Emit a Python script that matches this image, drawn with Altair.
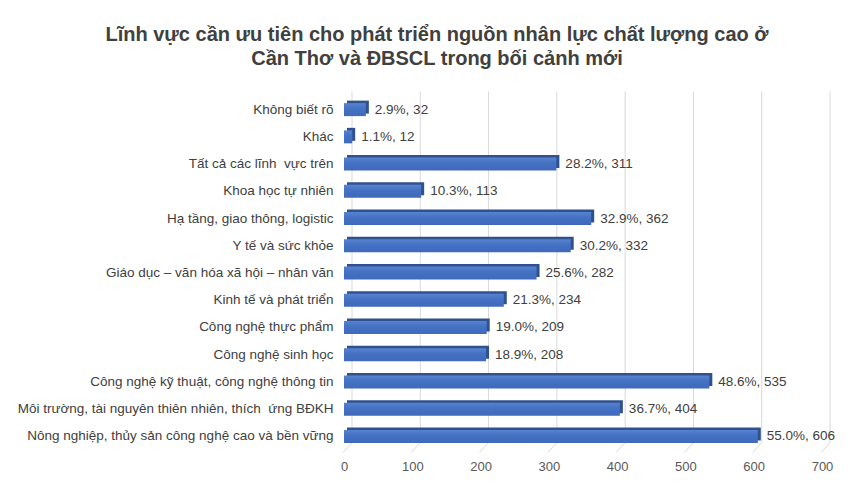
import altair as alt
import pandas as pd

categories = [
    "Không biết rõ",
    "Khác",
    "Tất cả các lĩnh \u00a0vực trên",
    "Khoa học tự nhiên",
    "Hạ tầng, giao thông, logistic",
    "Y tế và sức khỏe",
    "Giáo dục – văn hóa xã hội – nhân văn",
    "Kinh tế và phát triển",
    "Công nghệ thực phẩm",
    "Công nghệ sinh học",
    "Công nghệ kỹ thuật, công nghệ thông tin",
    "Môi trường, tài nguyên thiên nhiên, thích \u00a0ứng BĐKH",
    "Nông nghiệp, thủy sản công nghệ cao và bền vững",
]
counts = [32, 12, 311, 113, 362, 332, 282, 234, 209, 208, 535, 404, 606]
percents = [2.9, 1.1, 28.2, 10.3, 32.9, 30.2, 25.6, 21.3, 19.0, 18.9, 48.6, 36.7, 55.0]
ticks = [0, 100, 200, 300, 400, 500, 600, 700]

title_lines = [
    "Lĩnh vực cần ưu tiên cho phát triển nguồn nhân lực chất lượng cao ở",
    "Cần Thơ và ĐBSCL trong bối cảnh mới",
]

df = pd.DataFrame({"cat": categories, "n": counts, "pct": percents})
df["label"] = [f"{p:.1f}%, {n}" for p, n in zip(percents, counts)]
grid_df = pd.DataFrame({"v": ticks})

W, H = 478, 354
FONT = "Liberation Sans"

xs = alt.Scale(domain=[0, 700], nice=False, zero=True)
ys = alt.Scale(domain=categories, paddingInner=0, paddingOuter=0)

x_axis = alt.Axis(values=ticks, title=None, grid=False, domain=False, ticks=False, labelFlush=False,
                  labelPadding=10, labelFontSize=13, labelColor="#595959", labelFont=FONT)
y_axis = alt.Axis(title=None, domain=False, ticks=False, labelPadding=11, labelFontSize=13.5,
                  labelColor="#404040", labelFont=FONT, labelLimit=0)

base = alt.Chart(df).encode(
    x=alt.X("n:Q", scale=xs, axis=x_axis),
    y=alt.Y("cat:N", scale=ys, sort=categories, axis=y_axis),
)

grid = alt.Chart(grid_df).mark_rule(color="#d9d9d9", strokeWidth=1, xOffset=8).encode(
    x=alt.X("v:Q", scale=xs, axis=x_axis),
    y=alt.value(-4.5),
    y2=alt.value(H - 7.5),
)
diag = alt.Chart(grid_df).mark_rule(color="#d9d9d9", strokeWidth=1, xOffset=-1, x2Offset=8).encode(
    x=alt.X("v:Q", scale=xs, axis=x_axis),
    x2="v:Q",
    y=alt.value(H + 2.5),
    y2=alt.value(H - 7.5),
)

back = base.mark_bar(size=13, color="#2f528f", xOffset=3, yOffset=-2.5)

front = base.mark_bar(
    size=13,
    color=alt.Gradient(
        gradient="linear",
        stops=[alt.GradientStop(color="#5a83d0", offset=0), alt.GradientStop(color="#4472c4", offset=0.4),
               alt.GradientStop(color="#4069bb", offset=1)],
        x1=0, x2=0, y1=0, y2=1,
    ),
)

text = base.mark_text(align="left", baseline="middle", dx=9, fontSize=13.5, color="#404040", font=FONT).encode(
    text="label:N",
)

chart = alt.layer(grid, diag, back, front, text).properties(
    width=W,
    height=H,
    autosize=alt.AutoSizeParams(type="none"),
    padding={"left": 336, "top": 88, "right": 22, "bottom": 25},
    background="white",
    title=alt.TitleParams(
        text=title_lines, fontSize=20, fontWeight="bold", font=FONT, color="#404040",
        anchor="middle", dx=-146, offset=22, lineHeight=24,
    ),
).configure_view(stroke=None)

chart.save("out.html", embed_options={"renderer": "svg", "actions": False})
